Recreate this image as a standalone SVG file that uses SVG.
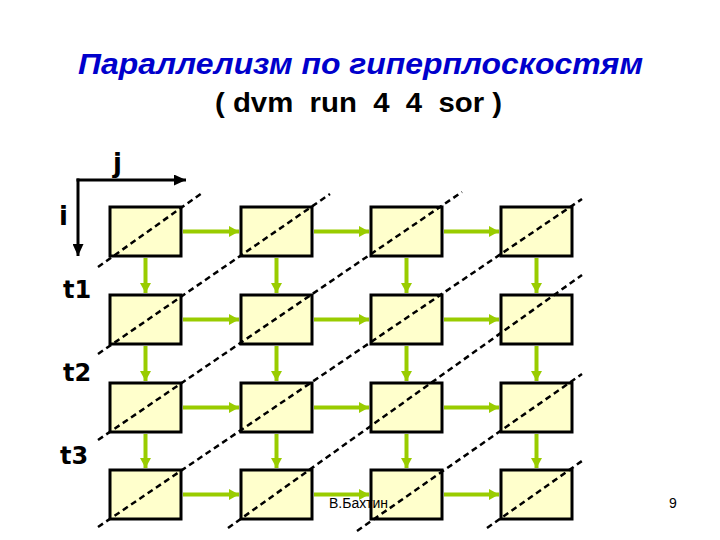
<svg xmlns="http://www.w3.org/2000/svg" width="720" height="540" viewBox="0 0 720 540">
<style>
.box{fill:#FFFFCC;stroke:#000;stroke-width:3}
.g{stroke:#99CC00;stroke-width:4;fill:none;marker-end:url(#ga)}
.d{stroke:#000;stroke-width:2.5;stroke-dasharray:6 4;fill:none}
.ax{stroke:#000;stroke-width:3;fill:none;marker-end:url(#ba)}
.lbl{font-family:"DejaVu Sans",Verdana,sans-serif;font-weight:bold;fill:#000}
.ft{font-family:"Liberation Sans",Arial,sans-serif;font-size:14px;fill:#000}
</style>
<defs>
<marker id="ga" markerUnits="userSpaceOnUse" markerWidth="10" markerHeight="11" refX="10" refY="5.5" orient="auto"><path d="M0,0 L10,5.5 L0,11 z" fill="#99CC00"/></marker>
<marker id="ba" markerUnits="userSpaceOnUse" markerWidth="12" markerHeight="11" refX="12" refY="5.5" orient="auto"><path d="M0,0 L12,5.5 L0,11 z" fill="#000"/></marker>
</defs>
<rect width="720" height="540" fill="#fff"/>
<text x="78" y="73.5" font-family="'Liberation Sans',Arial,sans-serif" font-size="30" font-weight="bold" font-style="italic" fill="#0000CC" textLength="565" lengthAdjust="spacingAndGlyphs">Параллелизм по гиперплоскостям</text>
<text x="215" y="112" xml:space="preserve" font-family="'Liberation Sans',Arial,sans-serif" font-size="28" font-weight="bold" fill="#000" textLength="287" lengthAdjust="spacingAndGlyphs">( dvm  run  4  4  sor )</text>
<g id="axes">
<path class="ax" d="M76.5,180 H186"/>
<path class="ax" d="M78,178.5 V256"/>
<text class="lbl" x="113" y="172" font-size="26">j</text>
<text class="lbl" x="59" y="225" font-size="26">i</text>
</g>
<g id="labels">
<text class="lbl" x="63" y="298" font-size="24">t1</text>
<text class="lbl" x="63" y="381" font-size="24">t2</text>
<text class="lbl" x="60" y="464" font-size="24">t3</text>
</g>
<g id="nodes">
<g id="n00"><rect class="box" x="110" y="207" width="71" height="49"/></g>
<g id="n01"><rect class="box" x="241" y="207" width="71" height="49"/></g>
<g id="n02"><rect class="box" x="371" y="207" width="71" height="49"/></g>
<g id="n03"><rect class="box" x="501" y="207" width="71" height="49"/></g>
<g id="n10"><rect class="box" x="110" y="295" width="71" height="49"/></g>
<g id="n11"><rect class="box" x="241" y="295" width="71" height="49"/></g>
<g id="n12"><rect class="box" x="371" y="295" width="71" height="49"/></g>
<g id="n13"><rect class="box" x="501" y="295" width="71" height="49"/></g>
<g id="n20"><rect class="box" x="110" y="383" width="71" height="49"/></g>
<g id="n21"><rect class="box" x="241" y="383" width="71" height="49"/></g>
<g id="n22"><rect class="box" x="371" y="383" width="71" height="49"/></g>
<g id="n23"><rect class="box" x="501" y="383" width="71" height="49"/></g>
<g id="n30"><rect class="box" x="110" y="470" width="71" height="49"/></g>
<g id="n31"><rect class="box" x="241" y="470" width="71" height="49"/></g>
<g id="n32"><rect class="box" x="371" y="470" width="71" height="49"/></g>
<g id="n33"><rect class="box" x="501" y="470" width="71" height="49"/></g>
</g>
<g id="connectors">
<path class="g" d="M183,231.5 H239"/>
<path class="g" d="M314,231.5 H369"/>
<path class="g" d="M444,231.5 H499"/>
<path class="g" d="M183,319.5 H239"/>
<path class="g" d="M314,319.5 H369"/>
<path class="g" d="M444,319.5 H499"/>
<path class="g" d="M183,407.5 H239"/>
<path class="g" d="M314,407.5 H369"/>
<path class="g" d="M444,407.5 H499"/>
<path class="g" d="M183,494.5 H239"/>
<path class="g" d="M314,494.5 H369"/>
<path class="g" d="M444,494.5 H499"/>
<path class="g" d="M145.5,258 V293"/>
<path class="g" d="M276.5,258 V293"/>
<path class="g" d="M406.5,258 V293"/>
<path class="g" d="M536.5,258 V293"/>
<path class="g" d="M145.5,346 V381"/>
<path class="g" d="M276.5,346 V381"/>
<path class="g" d="M406.5,346 V381"/>
<path class="g" d="M536.5,346 V381"/>
<path class="g" d="M145.5,434 V468"/>
<path class="g" d="M276.5,434 V468"/>
<path class="g" d="M406.5,434 V468"/>
<path class="g" d="M536.5,434 V468"/>
</g>
<g id="hyperplanes">
<path class="d" d="M98,267 L202,193"/>
<path class="d" d="M98,354 L330,194"/>
<path class="d" d="M98,440 L462,192"/>
<path class="d" d="M98,527 L582,199"/>
<path class="d" d="M228,528 L582,275"/>
<path class="d" d="M357,531 L582,374"/>
<path class="d" d="M487,528 L582,461"/>
</g>
<text class="ft" x="329" y="508">В.Бахтин</text>
<text class="ft" x="669" y="508">9</text>
</svg>
